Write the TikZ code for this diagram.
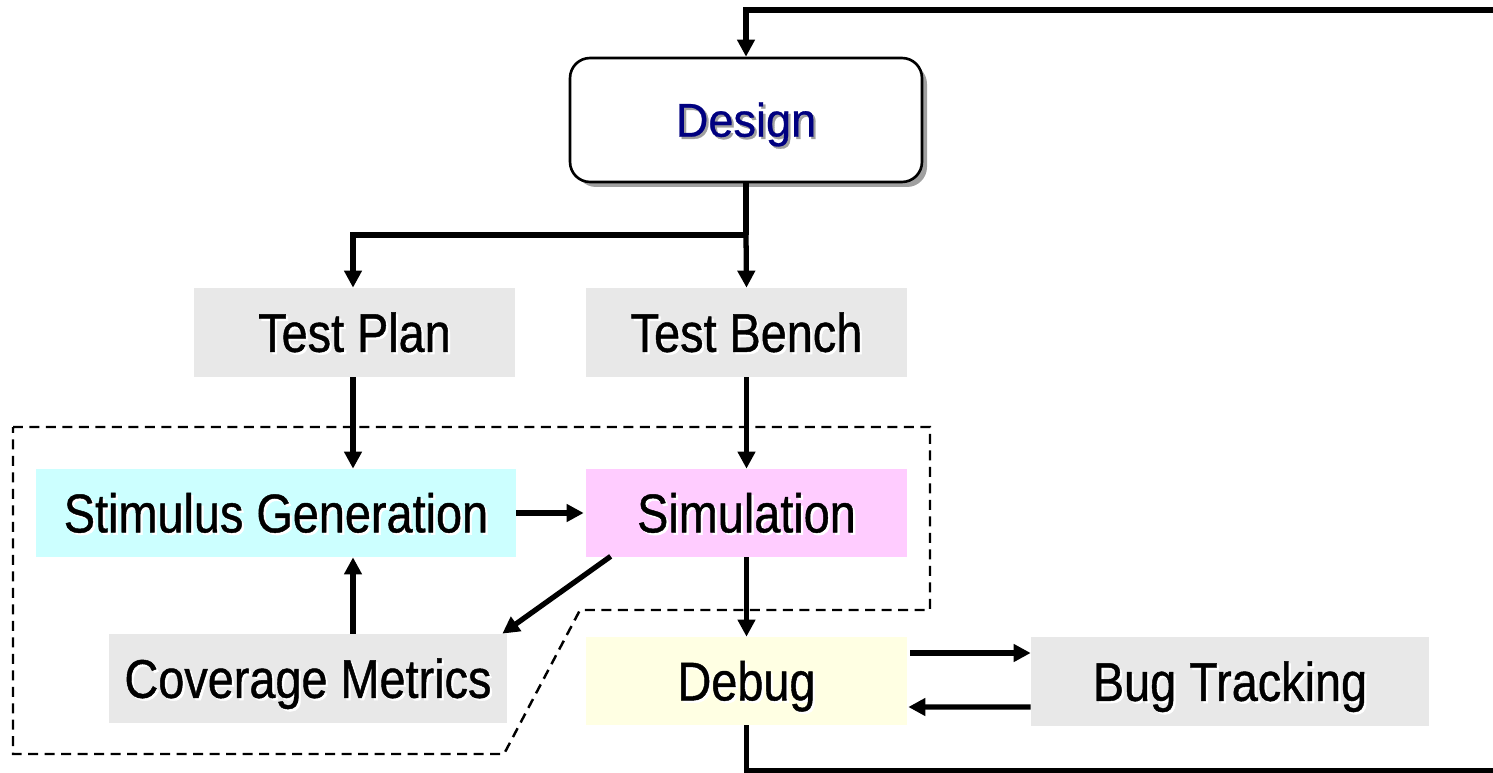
\documentclass[tikz,border=0pt]{standalone}
\usepackage{fontspec}
\setmainfont[FakeStretch=0.86,FakeBold=0.8]{Liberation Sans}
\newfontfamily\designfont[FakeStretch=0.95,FakeBold=0.6]{Liberation Sans}
\usetikzlibrary{arrows.meta,calc}
\definecolor{boxgray}{HTML}{E8E8E8}
\definecolor{stimcyan}{HTML}{CCFFFF}
\definecolor{simpink}{HTML}{FFCCFF}
\definecolor{dbgyellow}{HTML}{FFFFE3}
\definecolor{navytext}{HTML}{000080}
\definecolor{shadowgray}{HTML}{A0A0A0}
% text with a small drop shadow behind it
\newcommand\shd[2]{\leavevmode\rlap{\kern1.3pt\raisebox{-1.3pt}{\textcolor{#1}{#2}}}#2}
\tikzset{
  x=0.02cm, y=-0.02cm,
  flowbox/.style={inner sep=0pt, draw=none, text=black,
    font=\fontsize{31}{36}\selectfont, text height=22pt, text depth=0pt},
  arr/.style={line width=3pt, -{Triangle[length=0.34cm,width=0.34cm]}},
  plain/.style={line width=3pt},
  groupline/.style={line width=1.4pt, dash pattern=on 0.2cm off 0.13cm}
}
\begin{document}
\begin{tikzpicture}
\useasboundingbox (0,0) rectangle (1493,773);
\clip (0,0) rectangle (1493,773);

% design block with its drop shadow
\fill[shadowgray, rounded corners=0.4cm] (576,64) rectangle (927,187);
\node[draw, line width=1.5pt, fill=white, rounded corners=0.4cm,
  minimum width=7.04cm, minimum height=2.48cm, inner sep=0pt,
  text=navytext, font=\designfont\fontsize{27}{30}\selectfont,
  text height=19pt, text depth=0pt] (design) at (746,120) {\shd{shadowgray}{Design}};

% flow boxes
\node[flowbox, fill=boxgray, minimum width=6.42cm, minimum height=1.78cm] (plan) at (354.5,332.5) {\shd{white}{Test Plan}};
\node[flowbox, fill=boxgray, minimum width=6.42cm, minimum height=1.78cm] (bench) at (746.5,332.5) {\shd{white}{Test Bench}};
\node[flowbox, fill=stimcyan, minimum width=9.6cm, minimum height=1.76cm] (stim) at (276,513) {\shd{white}{Stimulus Generation}};
\node[flowbox, fill=simpink, minimum width=6.42cm, minimum height=1.76cm] (sim) at (746.5,513) {\shd{white}{Simulation}};
\node[flowbox, fill=boxgray, minimum width=7.96cm, minimum height=1.78cm] (cov) at (308,678.5) {\shd{white}{Coverage Metrics}};
\node[flowbox, fill=dbgyellow, minimum width=6.42cm, minimum height=1.76cm] (debug) at (746.5,681) {\shd{white}{Debug}};
\node[flowbox, fill=boxgray, minimum width=7.96cm, minimum height=1.78cm] (bug) at (1230,681.5) {\shd{white}{Bug Tracking}};

% dashed verification loop boundary
\draw[groupline] (13,427) -- (930,427) -- (930,610) -- (580,610) -- (504,754) -- (13,754) -- cycle;

% design fan-out
\coordinate (split) at (746,235);
\draw[plain] (design.south) -- (split);
\draw[arr] (split) -- (bench.north);
\draw[arr] (split) -| (plan.north -| 353,0);

% into the loop
\draw[arr] (plan.south -| 353,0) -- (stim.north -| 353,0);
\draw[arr] (bench.south) -- (sim.north);
\draw[arr] (stim.east) -- ($(sim.west)+(-2,0)$);
\draw[arr] (cov.north -| 353,0) -- (stim.south -| 353,0);
\draw[arr] ($(sim.south west)+(25,-1)$) -- ($(cov.north east)+(-5,0)$);
\draw[arr] (sim.south) -- (debug.north);

% debug and bug tracking exchange
\draw[arr] ($(debug.east)+(3,-28)$) -- ($(bug.west)+(0,-28.5)$);
\draw[arr] ($(bug.west)+(0,25.5)$) -- ($(debug.east)+(1,26)$);

% feedback to design, routed beyond the right edge
\coordinate (fbBR) at (1510,771);
\coordinate (fbTR) at (1510,10);
\draw[arr] (debug.south) |- (fbBR) -- (fbTR) -| (design.north);
\end{tikzpicture}
\end{document}
